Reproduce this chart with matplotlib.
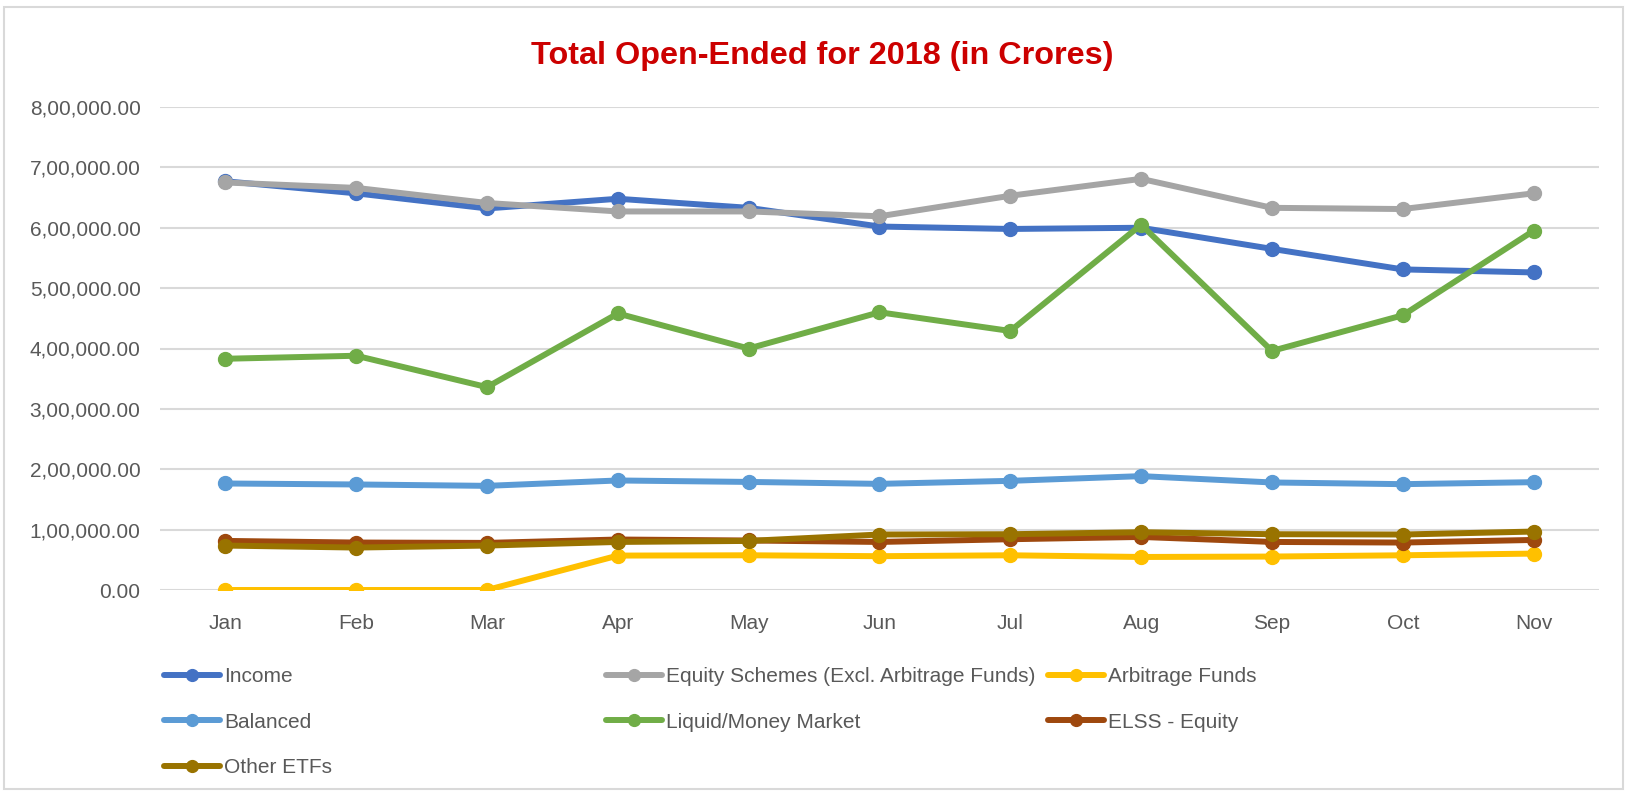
import matplotlib
matplotlib.use("Agg")
import matplotlib.pyplot as plt
from matplotlib.patches import Rectangle
from matplotlib.ticker import FuncFormatter, MultipleLocator

# ── Data (Rs. crores) ───────────────────────────────────────
months = ["Jan", "Feb", "Mar", "Apr", "May", "Jun", "Jul", "Aug", "Sep", "Oct", "Nov"]

income = [677000, 657000, 632000, 648000, 633000, 602000, 598000, 600000, 565000, 531000, 526000]
equity = [675000, 666000, 641000, 627000, 627000, 619000, 653000, 681000, 633000, 631000, 657000]
arbitrage = [0, 0, 0, 57000, 57500, 56000, 57500, 54700, 55400, 57500, 60300]
balanced = [176400, 174800, 172500, 181400, 179000, 175800, 180800, 188600, 178100, 175300, 178600]
liquid = [383000, 388000, 336000, 458000, 400000, 460000, 429000, 605000, 396000, 455000, 595000]
elss = [81300, 78600, 78000, 83600, 82000, 79600, 84100, 87900, 79600, 78600, 82900]
other_etfs = [73600, 70300, 73600, 79600, 81300, 91900, 92400, 95700, 92400, 91900, 96800]

SERIES = [
    ("Income", income, "#4472C4"),
    ("Equity Schemes (Excl. Arbitrage Funds)", equity, "#A5A5A5"),
    ("Arbitrage Funds", arbitrage, "#FFC000"),
    ("Balanced", balanced, "#5B9BD5"),
    ("Liquid/Money Market", liquid, "#70AD47"),
    ("ELSS - Equity", elss, "#9E480E"),
    ("Other ETFs", other_etfs, "#997300"),
]

FONT = ["Liberation Sans", "DejaVu Sans"]
TEXT = "#595959"
GRID = "#D9D9D9"


def indian_fmt(v, _pos=None):
    """8,00,000.00 style grouping."""
    v = int(round(v))
    s = str(v)
    if len(s) > 3:
        head, tail = s[:-3], s[-3:]
        groups = []
        while len(head) > 2:
            groups.insert(0, head[-2:])
            head = head[:-2]
        if head:
            groups.insert(0, head)
        s = ",".join(groups) + "," + tail
    return s + ".00"


plt.rcParams["font.family"] = FONT

W, H = 1630, 792
fig = plt.figure(figsize=(W / 100, H / 100), dpi=100)
fig.patch.set_facecolor("white")

# chart-area border
fig.add_artist(Rectangle((4 / W, 3 / H), 1619 / W, 782 / H, transform=fig.transFigure,
                         fill=False, edgecolor=GRID, linewidth=1.5))

ax = fig.add_axes([160 / W, 202 / H, 1439 / W, 483 / H])

lines = []
for name, vals, color in SERIES:
    ln, = ax.plot(months, vals, color=color, linewidth=4.3, marker="o", markersize=10,
                  label=name, solid_capstyle="round")
    lines.append(ln)

ax.set_ylim(0, 800000)
ax.set_xlim(-0.5, len(months) - 0.5)
ax.yaxis.set_major_locator(MultipleLocator(100000))
ax.yaxis.set_major_formatter(FuncFormatter(indian_fmt))
ax.yaxis.grid(True, color=GRID, linewidth=1.5)
ax.set_axisbelow(True)
for sp in ax.spines.values():
    sp.set_visible(False)
ax.tick_params(axis="both", length=0, labelsize=15, labelcolor=TEXT)
ax.tick_params(axis="y", pad=14)
ax.tick_params(axis="x", pad=17.5)

fig.text(822 / W, 1 - 56 / H, "Total Open-Ended for 2018 (in Crores)", ha="center", va="center",
         fontsize=23.3, fontweight="bold", color="#CC0000")

# legend: three equal-width columns, Excel style
cols = [[0, 3, 6], [1, 4], [2, 5]]
col_x = [164, 606, 1048]
for idx, x in zip(cols, col_x):
    leg = fig.legend([lines[i] for i in idx], [SERIES[i][0] for i in idx],
                     loc="upper left", bbox_to_anchor=(x / W, 1 - 667 / H),
                     frameon=False, fontsize=15, handlelength=2.7, handletextpad=0.2,
                     labelspacing=1.28, borderpad=0, borderaxespad=0, markerscale=0.85)
    for t in leg.get_texts():
        t.set_color(TEXT)

fig.savefig("out.png", dpi=100, facecolor="white")
